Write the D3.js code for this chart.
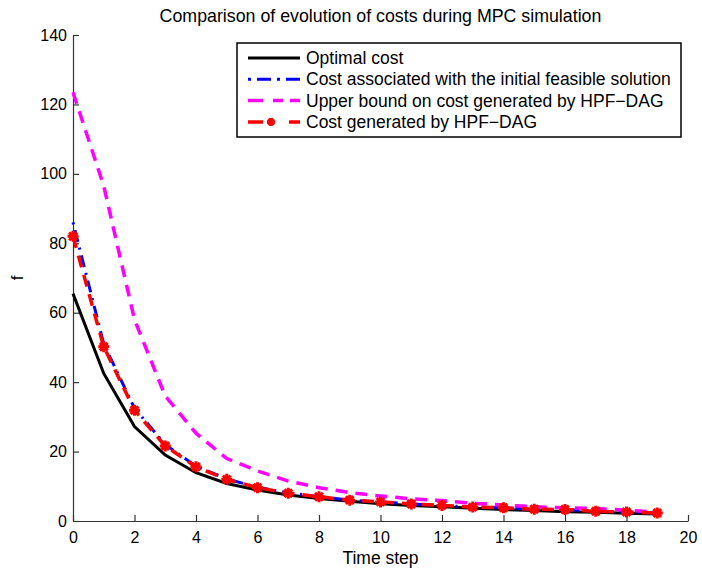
<!DOCTYPE html>
<html>
<head>
<meta charset="utf-8">
<script src="https://cdn.jsdelivr.net/npm/d3@7"></script>
<style>
  body { margin: 0; background: #fff; }
  svg { font-family: 'Liberation Sans', Arial, sans-serif; }
  .tick text { font-size: 16px; fill: #000; }
</style>
</head>
<body>
<svg width="702" height="577"></svg>
<script>
const steps = d3.range(0, 20);
const optimalCost = [65.5, 42.5, 27.2, 19.0, 13.9, 10.8, 8.9, 7.5, 6.5, 5.7, 5.0, 4.5, 4.1, 3.7, 3.3, 3.0, 2.7, 2.5, 2.2, 2.0];
const initialCost = [86.0, 51.0, 32.5, 22.0, 15.8, 12.1, 9.7, 8.1, 7.0, 6.0, 5.5, 4.9, 4.5, 4.0, 3.8, 3.4, 3.3, 2.8, 2.6, 2.3];
const upperBound = [123.5, 96.5, 58.0, 36.0, 25.3, 18.0, 14.4, 11.5, 9.6, 8.2, 7.2, 6.4, 5.9, 5.1, 4.6, 4.1, 3.8, 3.6, 3.1, 2.6];
const hpfCost = [82.0, 50.2, 31.9, 21.6, 15.6, 12.0, 9.6, 8.0, 7.0, 6.0, 5.5, 4.9, 4.5, 4.0, 3.8, 3.4, 3.3, 2.8, 2.6, 2.3];
const xTicks = [0, 2, 4, 6, 8, 10, 12, 14, 16, 18, 20];
const yTicks = [0, 20, 40, 60, 80, 100, 120, 140];
const legendLabels = [
    'Optimal cost',
    'Cost associated with the initial feasible solution',
    'Upper bound on cost generated by HPF\u2212DAG',
    'Cost generated by HPF\u2212DAG'
];

const svg = d3.select('svg');
const margin = { top: 35, right: 14, bottom: 56, left: 73 };
const width = +svg.attr('width');
const height = +svg.attr('height');
const innerWidth = width - margin.left - margin.right;
const innerHeight = height - margin.top - margin.bottom;

const xScale = d3.scaleLinear().domain([0, 20]).range([0, innerWidth]);
const yScale = d3.scaleLinear().domain([0, 140]).range([innerHeight, 0]);

const g = svg.append('g')
    .attr('transform', `translate(${margin.left}, ${margin.top})`);

// axes, matlab style ticks pointing inward
const xAxisG = g.append('g')
    .attr('transform', `translate(0, ${innerHeight})`)
    .call(d3.axisBottom(xScale).tickValues(xTicks).tickSizeInner(-6).tickSizeOuter(0).tickPadding(11));
const yAxisG = g.append('g')
    .call(d3.axisLeft(yScale).tickValues(yTicks).tickSizeInner(-6).tickSizeOuter(0).tickPadding(6));
[xAxisG, yAxisG].forEach(a => {
    a.selectAll('.domain').attr('stroke', '#333').attr('stroke-width', 1.2);
    a.selectAll('.tick line').attr('stroke', '#333').attr('stroke-width', 1.2);
});

const line = vals => d3.line()
    .x((d, i) => xScale(steps[i]))
    .y(d => yScale(d))(vals);

const series = [
    { vals: optimalCost, color: '#000', dash: null, legendDash: null, w: 3 },
    { vals: initialCost, color: '#0000ff', dash: '2,6,12,6', legendDash: '3,6,14,6,3,6,18', w: 3 },
    { vals: upperBound, color: '#ff00ff', dash: '12,8', legendDash: '15,10,10,7,10', w: 3.5 },
    { vals: hpfCost, color: '#ff0000', dash: '12,8', legendDash: '15,26,12', w: 3.5 }
];

series.forEach(s => {
    g.append('path')
        .attr('d', line(s.vals))
        .attr('fill', 'none')
        .attr('stroke', s.color)
        .attr('stroke-width', s.w)
        .attr('stroke-dasharray', s.dash);
});

const starPath = r => {
    const d = r * 0.707;
    return `M${-r},0L${r},0M0,${-r}L0,${r}M${-d},${-d}L${d},${d}M${-d},${d}L${d},${-d}`;
};

g.selectAll('.star')
    .data(hpfCost)
    .enter()
    .append('path')
    .attr('class', 'star')
    .attr('d', starPath(5.5))
    .attr('transform', (d, i) => `translate(${xScale(steps[i])}, ${yScale(d)})`)
    .attr('stroke', '#ff0000')
    .attr('stroke-width', 3)
    .attr('fill', 'none');

// title and labels
svg.append('text')
    .attr('x', margin.left + innerWidth / 2)
    .attr('y', 21.5)
    .attr('text-anchor', 'middle')
    .attr('font-size', 17.8)
    .text('Comparison of evolution of costs during MPC simulation');

svg.append('text')
    .attr('x', margin.left + innerWidth / 2)
    .attr('y', 564)
    .attr('text-anchor', 'middle')
    .attr('font-size', 17.5)
    .text('Time step');

svg.append('text')
    .attr('transform', `translate(23, ${margin.top + innerHeight / 2}) rotate(-90)`)
    .attr('text-anchor', 'middle')
    .attr('font-size', 17)
    .text('f');

// legend
const legend = svg.append('g').attr('transform', 'translate(237, 43)');
legend.append('rect')
    .attr('width', 444)
    .attr('height', 94)
    .attr('fill', '#fff')
    .attr('stroke', '#000')
    .attr('stroke-width', 1.5);

legendLabels.forEach((lbl, i) => {
    const y = 15 + i * 21.3;
    const s = series[i];
    const row = legend.append('g').attr('transform', `translate(0, ${y})`);
    row.append('line')
        .attr('x1', 11).attr('x2', 63)
        .attr('stroke', s.color)
        .attr('stroke-width', s.w)
        .attr('stroke-dasharray', s.legendDash);
    if (i === 3) {
        row.append('path')
            .attr('d', starPath(4))
            .attr('transform', 'translate(34, 0)')
            .attr('stroke', '#ff0000')
            .attr('stroke-width', 3)
            .attr('fill', 'none');
    }
    row.append('text')
        .attr('x', 69)
        .attr('y', 6)
        .attr('font-size', 17.5)
        .text(lbl);
});
</script>
</body>
</html>
